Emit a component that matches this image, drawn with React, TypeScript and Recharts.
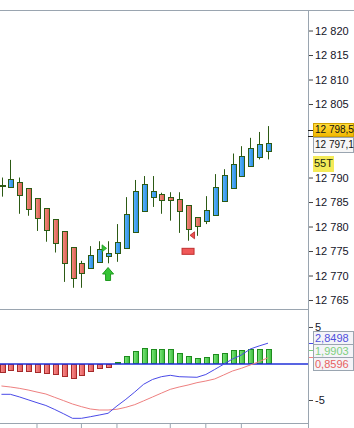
import { ComposedChart, Bar, Line, XAxis, YAxis, ReferenceLine, ReferenceDot } from "recharts";

// 31 candles, oldest first
const opens = [12788.5, 12788.3, 12789.1, 12787.9, 12785.9, 12783.8, 12781.6, 12779.1, 12775.9, 12772.6, 12771.6, 12773.0, 12774.2, 12774.6, 12775.6, 12779.0, 12783.1, 12786.0, 12786.7, 12786.1, 12785.7, 12784.4, 12782.0, 12781.2, 12782.4, 12785.2, 12787.9, 12790.3, 12792.4, 12794.2, 12795.4];
const highs = [12790.1, 12793.7, 12790.1, 12787.9, 12785.9, 12783.8, 12781.6, 12779.1, 12775.9, 12773.1, 12776.1, 12777.1, 12777.1, 12780.6, 12786.1, 12789.6, 12790.4, 12790.4, 12787.0, 12787.1, 12787.1, 12784.4, 12782.0, 12786.3, 12790.8, 12791.8, 12795.0, 12796.5, 12798.2, 12799.4, 12800.6];
const lows = [12786.2, 12788.0, 12782.7, 12782.3, 12779.2, 12777.0, 12774.8, 12768.8, 12767.6, 12767.6, 12771.6, 12773.0, 12772.6, 12772.9, 12775.6, 12779.0, 12783.1, 12784.1, 12782.7, 12781.3, 12778.8, 12777.2, 12778.2, 12780.6, 12782.4, 12785.2, 12787.9, 12790.3, 12792.4, 12793.8, 12793.8];
const closes = [12788.4, 12789.9, 12786.5, 12783.6, 12781.8, 12779.4, 12776.7, 12772.6, 12769.5, 12770.6, 12774.2, 12775.6, 12774.8, 12776.9, 12782.6, 12787.3, 12788.7, 12787.3, 12785.4, 12785.4, 12783.2, 12779.5, 12780.1, 12783.4, 12788.1, 12790.6, 12792.8, 12794.4, 12796.1, 12796.9, 12797.1];

// MACD panel
const macd = [-4.15, -4.15, -4.5, -4.9, -5.3, -5.68, -6.23, -6.82, -7.44, -7.44, -7.22, -6.99, -6.75, -5.75, -4.84, -3.84, -2.78, -2.12, -1.74, -1.55, -1.74, -1.78, -1.82, -1.44, -0.75, -0.04, 0.68, 1.23, 2.05, 2.47, 2.85];
const signal = [-3.01, -3.15, -3.33, -3.56, -3.84, -4.11, -4.57, -5.02, -5.48, -5.84, -6.16, -6.3, -6.3, -6.2, -5.93, -5.57, -5.05, -4.52, -3.99, -3.47, -3.15, -2.88, -2.56, -2.33, -2.05, -1.51, -0.96, -0.59, -0.14, 0.32, 0.86];
const hist = [-1.19, -0.92, -1.05, -1.05, -1.19, -1.33, -1.47, -1.74, -2.01, -1.6, -1.05, -0.64, -0.5, 0.23, 1.05, 1.74, 2.15, 2.01, 2.01, 2.01, 1.47, 1.05, 0.78, 0.92, 1.33, 1.47, 1.88, 1.88, 2.01, 2.01, 1.99];

const SLOTS = 35; // 31 bars + empty room on the right
// 12 795 / 12 800 sit under the price tags, so they are left out
const priceTicks = [12765, 12770, 12775, 12780, 12785, 12790, 12805, 12810, 12815, 12820];
const macdTicks = [-5, 5];
const timeTicks = [4, 9, 13, 19, 23, 27];

const data = Array.from({ length: SLOTS }, (_, i) =>
  i < opens.length
    ? {
        i,
        open: opens[i],
        high: highs[i],
        low: lows[i],
        close: closes[i],
        range: [lows[i], highs[i]],
        macd: macd[i],
        signal: signal[i],
        hist: hist[i],
      }
    : { i }
);

const EDGE = "#2c5a14";
const GRAY = "#9aa5b0";
const FONT = "'Liberation Sans', Arial, sans-serif";

const Candle = (props: any) => {
  const { x, y, width, height, payload } = props;
  if (payload.open == null) return null;
  const { open, close, high, low } = payload;
  const top = Math.min(y, y + height);
  const h = Math.abs(height);
  const k = h / (high - low);
  const c = Math.round(x + width / 2);
  const yo = top + (high - open) * k;
  const yc = top + (high - close) * k;
  const by = Math.round(Math.min(yo, yc)) + 0.5;
  const bh = Math.max(Math.round(Math.abs(yc - yo)), 1);
  return (
    <g>
      <line x1={c + 0.5} x2={c + 0.5} y1={top} y2={top + h} stroke={EDGE} strokeWidth={1} />
      <rect
        x={c - 1.5}
        y={by}
        width={5}
        height={bh}
        fill={close >= open ? "url(#gBlue)" : "url(#gRed)"}
        stroke={EDGE}
        strokeWidth={1}
      />
    </g>
  );
};

const HistBar = (props: any) => {
  const { x, y, width, height, payload } = props;
  if (payload.hist == null) return null;
  const top = Math.min(y, y + height);
  const h = Math.abs(height);
  const c = Math.round(x + width / 2);
  const pos = payload.hist >= 0;
  return (
    <rect
      x={c - 1.5}
      y={Math.round(top) + 0.5}
      width={5}
      height={Math.max(Math.round(h) - 1, 1)}
      fill={pos ? "url(#gGreen)" : "url(#gPink)"}
      stroke={pos ? "#1e8c1e" : "#a52a2a"}
      strokeWidth={1}
    />
  );
};

const UpArrow = ({ cx, cy }: any) => (
  <polygon
    points={`${cx},${cy - 6.5} ${cx + 5.5},${cy} ${cx + 2.5},${cy} ${cx + 2.5},${cy + 6.5} ${cx - 2.5},${cy + 6.5} ${cx - 2.5},${cy} ${cx - 5.5},${cy}`}
    fill="#35c435"
    stroke="#1f9a1f"
    strokeWidth={1}
  />
);
const RightTri = ({ cx, cy }: any) => (
  <polygon points={`${cx - 6},${cy - 3.5} ${cx - 6},${cy + 3.5} ${cx - 1.5},${cy}`} fill="#35c435" stroke="#1f9a1f" strokeWidth={0.8} />
);
const LeftTri = ({ cx, cy }: any) => (
  <polygon points={`${cx + 6.5},${cy - 3.5} ${cx + 6.5},${cy + 3.5} ${cx + 2},${cy}`} fill="#ee5050" stroke="#b02828" strokeWidth={0.8} />
);
const RedBlock = ({ cx, cy }: any) => (
  <rect x={cx - 6} y={cy - 3} width={12} height={6} fill="#f05858" stroke="#c03030" strokeWidth={1} />
);

const fmtPrice = (v: number) => `${Math.floor(v / 1000)} ${String(v % 1000).padStart(3, "0")}`;

const line = (left: number, top: number, width: number, height: number, bg: string) => (
  <div style={{ position: "absolute", left, top, width, height, background: bg }} />
);

const Tag = ({ top, height, width = 41, size = 11, bg, border, color, text }: any) => (
  <div
    style={{
      position: "absolute",
      left: 313,
      top,
      width,
      height,
      boxSizing: "border-box",
      background: bg,
      border: border ? `1px solid ${border}` : "none",
      color,
      fontFamily: FONT,
      fontSize: size,
      lineHeight: `${height - 2}px`,
      paddingLeft: 1,
      whiteSpace: "nowrap",
    }}
  >
    {text}
  </div>
);

export default function App() {
  const tickStyle = { fill: "#141428", fontSize: 11, fontFamily: FONT };
  return (
    <div style={{ position: "absolute", left: 0, top: 0, width: 354, height: 428, overflow: "hidden", background: "#fff" }}>
      <div style={{ position: "absolute", left: -3, top: 10 }}>
        <ComposedChart width={357} height={300} data={data} margin={{ top: 0, right: 0, bottom: 1, left: 0 }} barCategoryGap={0}>
          <defs>
            <linearGradient id="gBlue" x1="0" y1="0" x2="1" y2="0">
              <stop offset="0" stopColor="#5cb6ff" />
              <stop offset="1" stopColor="#2a8ae2" />
            </linearGradient>
            <linearGradient id="gRed" x1="0" y1="0" x2="1" y2="0">
              <stop offset="0" stopColor="#f49080" />
              <stop offset="1" stopColor="#d85a50" />
            </linearGradient>
          </defs>
          <XAxis dataKey="i" hide />
          <YAxis
            orientation="right"
            width={46}
            type="number"
            domain={[12763.27, 12824.29]}
            allowDataOverflow
            ticks={priceTicks}
            interval={0}
            tickFormatter={fmtPrice}
            axisLine={false}
            tickLine={{ stroke: "#444" }}
            tickSize={5}
            tick={tickStyle}
          />
          <Bar dataKey="range" barSize={7} shape={<Candle />} isAnimationActive={false} />
          <ReferenceDot x={12} y={12770.41} r={5} shape={<UpArrow />} />
          <ReferenceDot x={12} y={12775.65} r={4} shape={<RightTri />} />
          <ReferenceDot x={21} y={12778.31} r={4} shape={<LeftTri />} />
          <ReferenceDot x={21} y={12775.04} r={4} shape={<RedBlock />} />
        </ComposedChart>
      </div>

      <div style={{ position: "absolute", left: -3, top: 309 }}>
        <ComposedChart width={357} height={119} data={data} margin={{ top: 0, right: 0, bottom: 0, left: 0 }} barCategoryGap={0}>
          <defs>
            <linearGradient id="gGreen" x1="0" y1="0" x2="1" y2="0">
              <stop offset="0" stopColor="#7ee87e" />
              <stop offset="1" stopColor="#3cbc3c" />
            </linearGradient>
            <linearGradient id="gPink" x1="0" y1="0" x2="1" y2="0">
              <stop offset="0" stopColor="#f89090" />
              <stop offset="1" stopColor="#e05858" />
            </linearGradient>
          </defs>
          <XAxis
            dataKey="i"
            height={5}
            ticks={timeTicks}
            interval={0}
            tickFormatter={() => ""}
            axisLine={false}
            tickLine={{ stroke: GRAY }}
            tickSize={5}
          />
          <YAxis
            orientation="right"
            width={46}
            type="number"
            domain={[-8.08, 7.53]}
            allowDataOverflow
            ticks={macdTicks}
            interval={0}
            axisLine={false}
            tickLine={{ stroke: "#444" }}
            tickSize={5}
            tick={tickStyle}
          />
          <Bar dataKey="hist" barSize={7} shape={<HistBar />} isAnimationActive={false} />
          <ReferenceLine y={0} stroke="#2030d8" strokeWidth={1.5} />
          <Line type="linear" dataKey="signal" stroke="#ee8080" strokeWidth={1} dot={false} isAnimationActive={false} />
          <Line type="linear" dataKey="macd" stroke="#4a4ae8" strokeWidth={1} dot={false} isAnimationActive={false} />
        </ComposedChart>
      </div>

      {line(0, 10, 354, 1, GRAY)}
      {line(0, 309, 308, 1, GRAY)}
      {line(0, 423, 308, 1, GRAY)}
      {line(308, 10, 1, 418, GRAY)}

      {line(308, 130, 5, 1, "#222")}
      {line(308, 136, 5, 1, "#222")}
      <Tag top={123} height={14} size={10} bg="linear-gradient(#ffdc3a, #f2b800)" border="#d0a000" color="#111" text="12 798,5" />
      <Tag top={137} height={16} size={10} bg="#f6f6f6" border={GRAY} color="#111" text="12 797,1" />
      <Tag top={156} height={16} width={21} bg="#f4ea58" color="#1a2a10" text="55T" />

      {line(309, 343, 4, 1, "#4a4ae8")}
      {line(309, 350, 4, 1, "#7ed07e")}
      {line(309, 357, 4, 1, "#ee8080")}
      <Tag top={331} height={14} bg="#f4f4f8" border={GRAY} color="#5050dd" text="2,8498" />
      <Tag top={344} height={14} bg="#f4f4f8" border={GRAY} color="#7ed07e" text="1,9903" />
      <Tag top={357} height={14} bg="#f4f4f8" border={GRAY} color="#e86060" text="0,8596" />
    </div>
  );
}
